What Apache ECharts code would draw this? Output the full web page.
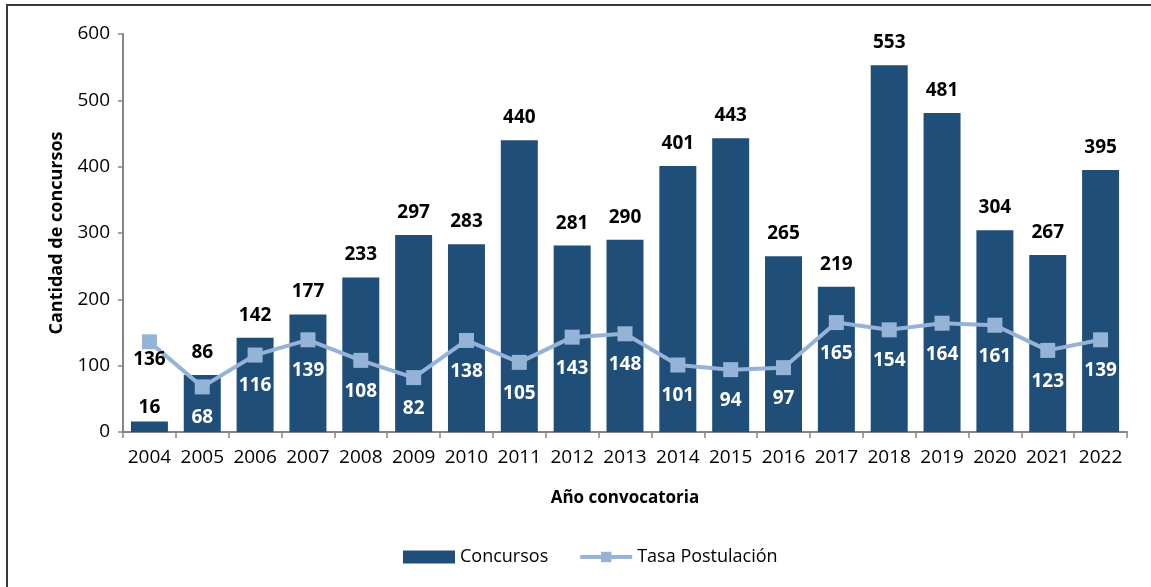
<!DOCTYPE html>
<html>
<head>
<meta charset="utf-8">
<script src="https://cdn.jsdelivr.net/npm/echarts@6/dist/echarts.min.js"></script>
<style>
  html, body { margin: 0; padding: 0; background: #ffffff; }
  #chart { width: 1151px; height: 587px; }
</style>
</head>
<body>
<div id="chart"></div>
<script>
// Años de convocatoria
const years = ['2004', '2005', '2006', '2007', '2008', '2009', '2010', '2011', '2012', '2013',
  '2014', '2015', '2016', '2017', '2018', '2019', '2020', '2021', '2022'];
// Cantidad de concursos por año
const concursos = [16, 86, 142, 177, 233, 297, 283, 440, 281, 290, 401, 443, 265, 219, 553, 481, 304, 267, 395];
// Tasa de postulación por año
const tasaPostulacion = [136, 68, 116, 139, 108, 82, 138, 105, 143, 148, 101, 94, 97, 165, 154, 164, 161, 123, 139];
// Marcas del eje vertical
const yTicks = [0, 100, 200, 300, 400, 500, 600];

const FONT = 'Open Sans';
const BAR = '#1F4E79';
const LINE = '#95B3D7';
const AXIS = '#868686';

const chart = echarts.init(document.getElementById('chart'), null, { renderer: 'canvas' });

// Barras: la de 2004 lleva su etiqueta más cerca de la barra
const barData = concursos.map((v, i) => i === 0
  ? { value: v, label: { distance: 4 } }
  : v);
// Línea: la etiqueta de 2004 queda fuera de la barra, en negro
const lineData = tasaPostulacion.map((v, i) => i === 0
  ? { value: v, label: { color: '#000000', distance: 1 } }
  : v);

chart.setOption({
  animation: false,
  textStyle: { fontFamily: FONT },
  grid: { left: 123, right: 24, top: 34, bottom: 155 },
  legend: {
    bottom: 16,
    left: 398,
    itemWidth: 52,
    itemHeight: 13,
    itemGap: 30,
    textStyle: { fontFamily: FONT, fontSize: 18, color: '#000000' },
    data: [
      { name: 'Concursos', icon: 'rect' },
      { name: 'Tasa Postulación', lineStyle: { width: 4, color: LINE }, itemStyle: { color: LINE } }
    ]
  },
  xAxis: {
    type: 'category',
    data: years,
    boundaryGap: true,
    name: 'Año convocatoria',
    nameLocation: 'middle',
    nameGap: 58,
    nameTextStyle: { fontFamily: FONT, fontSize: 17, fontWeight: 'bold', color: '#000000' },
    axisLine: { lineStyle: { color: AXIS, width: 2 } },
    axisTick: { show: true, interval: 0, length: 6, lineStyle: { color: AXIS, width: 1.5 } },
    axisLabel: { interval: 0, margin: 16, fontFamily: FONT, fontSize: 19, color: '#000000' }
  },
  yAxis: {
    type: 'value',
    min: yTicks[0],
    max: yTicks[yTicks.length - 1],
    interval: yTicks[1] - yTicks[0],
    name: 'Cantidad de concursos',
    nameLocation: 'middle',
    nameGap: 57,
    nameTextStyle: { fontFamily: FONT, fontSize: 18, fontWeight: 'bold', color: '#000000' },
    axisLine: { show: true, lineStyle: { color: AXIS, width: 2 } },
    axisTick: { show: true, length: 5, lineStyle: { color: AXIS, width: 1.5 } },
    axisLabel: { margin: 13, fontFamily: FONT, fontSize: 19, color: '#000000' },
    splitLine: { show: false }
  },
  series: [
    {
      name: 'Concursos',
      type: 'bar',
      data: barData,
      barCategoryGap: '30%',
      itemStyle: { color: BAR },
      label: {
        show: true,
        position: 'top',
        distance: 13,
        fontFamily: FONT,
        fontSize: 19,
        fontWeight: 'bold',
        color: '#000000'
      },
      z: 2
    },
    {
      name: 'Tasa Postulación',
      type: 'line',
      data: lineData,
      symbol: 'rect',
      symbolSize: 15,
      lineStyle: { color: LINE, width: 4 },
      itemStyle: { color: LINE },
      label: {
        show: true,
        position: 'bottom',
        distance: 14,
        fontFamily: FONT,
        fontSize: 19,
        fontWeight: 'bold',
        color: '#ffffff'
      },
      z: 3
    }
  ],
  graphic: [
    {
      type: 'rect',
      silent: true,
      shape: { x: 7, y: 5, width: 1200, height: 700 },
      style: { fill: 'none', stroke: '#3a3a3a', lineWidth: 2 }
    }
  ]
});
</script>
</body>
</html>
